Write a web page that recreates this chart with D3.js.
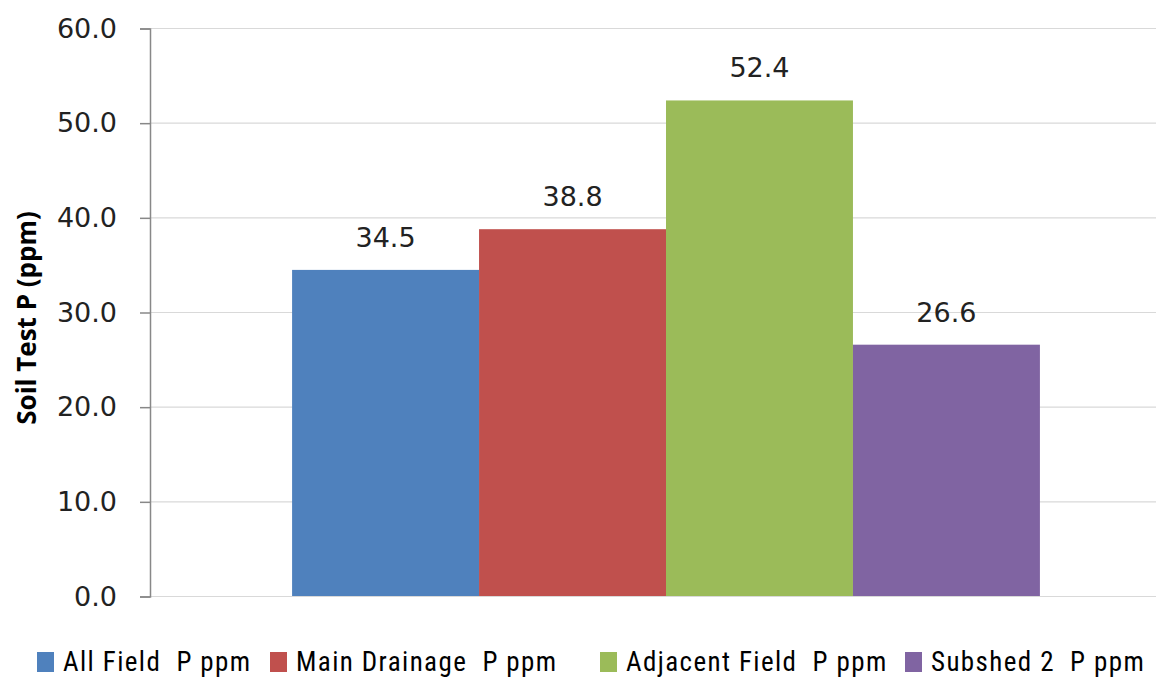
<!DOCTYPE html>
<html><head><meta charset="utf-8">
<script src="https://cdn.jsdelivr.net/npm/d3@7"></script>
<style>body{margin:0;background:#fff}svg{display:block}</style>
</head><body>
<svg id="c" width="1156" height="677"></svg>
<script>
const categories = ["All Field  P ppm", "Main Drainage  P ppm", "Adjacent Field  P ppm", "Subshed 2  P ppm"];
const values = [34.5, 38.8, 52.4, 26.6];
const colors = ["#4F81BD", "#C0504D", "#9BBB59", "#8064A2"];
const yTicks = [0, 10, 20, 30, 40, 50, 60];
const yTitle = "Soil Test P (ppm)";

const svg = d3.select("#c");
const y = d3.scaleLinear().domain([0, 60]).range([596.5, 28.5]);
const xOuter = d3.scaleBand().domain(["g"]).range([150, 1182]).paddingInner(0).paddingOuter(0.19);
const x = d3.scaleBand().domain(categories).range([xOuter("g"), xOuter("g") + xOuter.bandwidth()]).padding(0);

// gridlines
svg.append("g").selectAll("line").data(yTicks.filter(d => d > 0)).join("line")
  .attr("x1", 150).attr("x2", 1156).attr("y1", d => y(d)).attr("y2", d => y(d))
  .attr("stroke", "#d9d9d9").attr("stroke-width", 1.2);

// bars
svg.append("g").selectAll("rect").data(values).join("rect")
  .attr("x", (d, i) => x(categories[i])).attr("width", x.bandwidth())
  .attr("y", d => y(d)).attr("height", d => y(0) - y(d))
  .attr("fill", (d, i) => colors[i]);

// baseline
svg.append("line").attr("x1", 150).attr("x2", 1156).attr("y1", y(0)).attr("y2", y(0))
  .attr("stroke", "#d9d9d9").attr("stroke-width", 1.2);

// y axis
const ax = svg.append("g").attr("transform", "translate(150,0)")
  .call(d3.axisLeft(y).tickValues(yTicks).tickFormat(d3.format(".1f")).tickSize(10).tickPadding(23));
ax.select(".domain").attr("stroke", "#888").attr("stroke-width", 1.5);
ax.selectAll(".tick line").attr("stroke", "#888").attr("stroke-width", 1.5);
ax.selectAll(".tick text").attr("font-family", "DejaVu Sans, Verdana, sans-serif").attr("font-size", 27).attr("fill", "#222");

// data labels
svg.append("g").selectAll("text").data(values).join("text")
  .attr("x", (d, i) => x(categories[i]) + x.bandwidth() / 2)
  .attr("y", d => y(d) - 23)
  .attr("text-anchor", "middle")
  .attr("font-family", "DejaVu Sans, Verdana, sans-serif").attr("font-size", 27).attr("fill", "#222")
  .text(d => d3.format(".1f")(d));

// y title
svg.append("text").attr("transform", "translate(36,318) rotate(-90)")
  .attr("text-anchor", "middle").attr("font-family", "Open Sans, sans-serif")
  .attr("font-weight", "bold").attr("font-size", 26).attr("fill", "#000").text(yTitle);

// legend
const legX = [37, 270, 600, 905];
const leg = svg.append("g").selectAll("g").data(categories).join("g")
  .attr("transform", (d, i) => `translate(${legX[i]},0)`);
leg.append("rect").attr("x", 0).attr("y", 652).attr("width", 17).attr("height", 20)
  .attr("fill", (d, i) => colors[i]);
leg.append("text").attr("x", 26).attr("y", 671)
  .attr("font-family", "Liberation Sans Narrow, Roboto Condensed, sans-serif").attr("font-size", 27).attr("fill", "#000")
  .attr("letter-spacing", 1.4)
  .attr("xml:space", "preserve").style("white-space", "pre")
  .text(d => d);
</script>
</body></html>
